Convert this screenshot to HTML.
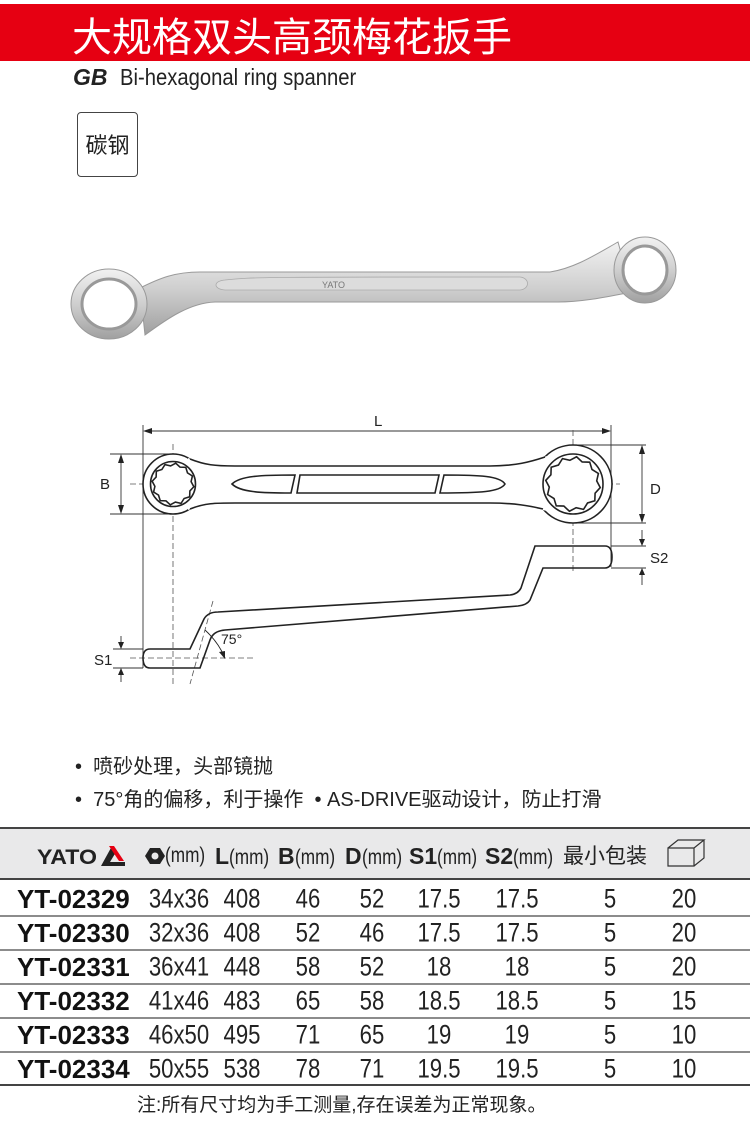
<!DOCTYPE html>
<html><head><meta charset="utf-8"><style>
*{margin:0;padding:0}
body{width:750px;height:1127px;position:relative;background:#fff;overflow:hidden;font-family:"Liberation Sans","Noto Sans CJK SC",sans-serif;color:#222}
.a{position:absolute;white-space:nowrap}
.v{position:absolute;font-size:27px;transform:translate(-50%,-50%) scaleX(0.82);line-height:1;color:#222}
.m{position:absolute;left:17px;font-size:26px;font-weight:bold;transform:translateY(-50%);line-height:1;color:#111}
.h{position:absolute;top:845px;font-size:21px;line-height:1;white-space:nowrap;color:#222}
.h b{font-size:23px}
.h span{display:inline-block;transform:scaleX(0.82);transform-origin:left}
</style></head><body>
<div class="a" style="left:0;top:4px;width:750px;height:57px;background:#e60012"></div>
<div class="a" style="left:72px;top:8px;font-size:40px;color:#fff;line-height:52px;font-family:'Noto Sans CJK SC',sans-serif">大规格双头高颈梅花扳手</div>
<div class="a" style="left:73px;top:63px;font-size:23px;line-height:28px"><b><i>GB</i></b>&nbsp; <span style="display:inline-block;transform:scaleX(0.88);transform-origin:left">Bi-hexagonal ring spanner</span></div>
<div class="a" style="left:77px;top:112px;width:59px;height:63px;border:1.5px solid #444;border-radius:4px;font-size:22px;line-height:63px;text-align:center;font-family:'Noto Sans CJK SC',sans-serif">碳钢</div>

<svg class="a" style="left:0;top:0" width="750" height="1127">
<defs><linearGradient id="g" x1="0" y1="0" x2="0" y2="1"><stop offset="0" stop-color="#f2f2f2"/><stop offset=".5" stop-color="#cfcfcf"/><stop offset="1" stop-color="#a0a0a0"/></linearGradient></defs>
<!-- photo wrench -->
<g stroke="#999" stroke-width="1" fill="url(#g)">
<path d="M140 288 C160 278 175 272 200 272 L550 272 C575 268 595 255 618 242 L632 292 C610 296 585 302 558 302 L215 302 C190 303 168 318 145 335 Z"/>
<ellipse cx="109" cy="304" rx="38" ry="35"/>
<ellipse cx="645" cy="270" rx="31" ry="33"/>
</g>
<ellipse cx="109" cy="304" rx="27" ry="25" fill="#fff" stroke="#999" stroke-width="3"/>
<ellipse cx="645" cy="270" rx="22" ry="24" fill="#fff" stroke="#999" stroke-width="3"/>
<path d="M225 280 C250 277 270 277 520 277 C530 278 530 289 520 290 L225 290 C213 289 213 281 225 280 Z" fill="#dcdcdc" stroke="#aaa" stroke-width="0.8"/>
<text x="322" y="288" font-size="9" fill="#777" font-family="Liberation Sans">YATO</text>

<!-- dimensions -->
<g stroke="#333" stroke-width="0.9" fill="none">
<line x1="143" y1="425" x2="143" y2="668"/>
<line x1="611" y1="425" x2="611" y2="567"/>
<line x1="146" y1="431" x2="608" y2="431"/>
<line x1="110" y1="454" x2="172" y2="454"/><line x1="110" y1="514" x2="172" y2="514"/>
<line x1="121" y1="457" x2="121" y2="511"/>
<line x1="573" y1="445" x2="646" y2="445"/><line x1="573" y1="523" x2="646" y2="523"/>
<line x1="642" y1="448" x2="642" y2="520"/>
<line x1="611" y1="546" x2="646" y2="546"/><line x1="611" y1="568" x2="646" y2="568"/>
<line x1="642" y1="530" x2="642" y2="543"/><line x1="642" y1="571" x2="642" y2="585"/>
<line x1="113" y1="649" x2="143" y2="649"/><line x1="113" y1="668" x2="143" y2="668"/>
<line x1="121" y1="636" x2="121" y2="646"/><line x1="121" y1="671" x2="121" y2="682"/>
</g>
<g fill="#222">
<path d="M143 431 L152 428 L152 434Z"/><path d="M611 431 L602 428 L602 434Z"/>
<path d="M121 454 L118 463 L124 463Z"/><path d="M121 514 L118 505 L124 505Z"/>
<path d="M642 445 L639 454 L645 454Z"/><path d="M642 523 L639 514 L645 514Z"/>
<path d="M642 546 L639 539 L645 539Z"/><path d="M642 568 L639 575 L645 575Z"/>
<path d="M121 649 L118 642 L124 642Z"/><path d="M121 668 L118 675 L124 675Z"/>
</g>
<g stroke="#555" stroke-width="0.8" stroke-dasharray="6 3" fill="none">
<line x1="130" y1="484" x2="620" y2="484"/>
<line x1="173" y1="444" x2="173" y2="684"/>
<line x1="573" y1="430" x2="573" y2="574"/>
<line x1="130" y1="658" x2="255" y2="658"/>
<line x1="213" y1="601" x2="190" y2="684"/>
</g>
<g font-family="Liberation Sans" font-size="15" fill="#222">
<text x="374" y="426">L</text><text x="100" y="489">B</text><text x="650" y="494">D</text>
<text x="650" y="563">S2</text><text x="94" y="665">S1</text><text x="221" y="644" font-size="14">75°</text>
</g>
<path d="M205 630 Q218 642 224 656" stroke="#222" fill="none" stroke-width="0.9"/><path d="M225 659 L219 652 L225 651Z" fill="#222"/>

<!-- top view -->
<g stroke="#222" stroke-width="1.6" fill="#fff">
<circle cx="173" cy="484" r="30"/><circle cx="573" cy="484" r="39"/>
</g>
<path d="M188 458 C205 465 215 466 235 466 L490 466 C515 466 530 462 547 456 L547 511 C530 507 515 503 490 503 L235 503 C215 503 205 503 188 510 Z" fill="#fff"/>
<g stroke="#222" stroke-width="1.6" fill="none">
<path d="M190 459 C205 465 215 466 235 466 L490 466 C515 466 530 462 545 457"/>
<path d="M190 509 C205 503 215 503 235 503 L490 503 C515 503 530 506 543 509"/>
<circle cx="173" cy="484" r="22.5" fill="#fff"/><circle cx="573" cy="484" r="30" fill="#fff"/>
<polygon transform="translate(173 484) scale(2.1) rotate(7.5)" stroke-width="0.75" points="10,0 8.4,2.25 8.66,5 6.15,6.15 5,8.66 2.25,8.4 0,10 -2.25,8.4 -5,8.66 -6.15,6.15 -8.66,5 -8.4,2.25 -10,0 -8.4,-2.25 -8.66,-5 -6.15,-6.15 -5,-8.66 -2.25,-8.4 0,-10 2.25,-8.4 5,-8.66 6.15,-6.15 8.66,-5 8.4,-2.25"/>
<polygon transform="translate(573 484) scale(2.75) rotate(7.5)" stroke-width="0.58" points="10,0 8.4,2.25 8.66,5 6.15,6.15 5,8.66 2.25,8.4 0,10 -2.25,8.4 -5,8.66 -6.15,6.15 -8.66,5 -8.4,2.25 -10,0 -8.4,-2.25 -8.66,-5 -6.15,-6.15 -5,-8.66 -2.25,-8.4 0,-10 2.25,-8.4 5,-8.66 6.15,-6.15 8.66,-5 8.4,-2.25"/>
<path d="M232 484 C240 476 260 475 295 475 L291 493 C260 493 240 492 232 484 Z"/>
<path d="M300 475 L439 475 L435 493 L297 493 Z"/>
<path d="M444 475 C480 475 500 476 505 484 C500 492 480 493 440 493 Z"/>
<path d="M150 649 L190 649 L204 619 Q208 612 218 612 L510 595 Q518 594 521 588 L535 546 L605 546 Q612 546 612 557 Q612 568 605 568 L543 568 L530 600 Q527 605 518 606 L225 630 Q213 631 210 640 L200 668 L150 668 Q143 668 143 658 Q143 649 150 649 Z"/>
</g>
<!-- table -->
<rect x="0" y="828" width="750" height="51" fill="#e9e9ea"/>
<g stroke="#444" stroke-width="2">
<line x1="0" y1="828" x2="750" y2="828"/><line x1="0" y1="879" x2="750" y2="879"/><line x1="0" y1="1085" x2="750" y2="1085"/>
</g>
<g stroke="#666" stroke-width="1.5">
<line x1="0" y1="916" x2="750" y2="916"/><line x1="0" y1="950" x2="750" y2="950"/><line x1="0" y1="984" x2="750" y2="984"/><line x1="0" y1="1018" x2="750" y2="1018"/><line x1="0" y1="1052" x2="750" y2="1052"/>
</g>
<text x="37" y="864" font-family="Liberation Sans" font-weight="bold" font-size="21" fill="#222" textLength="60" lengthAdjust="spacingAndGlyphs">YATO</text>
<path d="M101 866 L112 846 L116 852 L110 862 L125 862 L125 866Z" fill="#222"/><path d="M109 846 L114 846 L124 861 L119 861Z" fill="#e60012"/>
<polygon points="150,848 160,848 165,856 160,864 150,864 145,856" fill="#222"/><circle cx="155" cy="856" r="3.5" fill="#e9e9ea"/>
<g fill="none" stroke="#333" stroke-width="1.2"><path d="M668 848 L694 848 L694 866 L668 866 Z M668 848 L678 840 L704 840 L694 848 M704 840 L704 858 L694 866"/></g>
</svg>

<div class="h" style="left:165px"><span>(mm)</span></div>
<div class="h" style="left:215px"><b>L</b><span>(mm)</span></div>
<div class="h" style="left:278px"><b>B</b><span>(mm)</span></div>
<div class="h" style="left:345px"><b>D</b><span>(mm)</span></div>
<div class="h" style="left:409px"><b>S1</b><span>(mm)</span></div>
<div class="h" style="left:485px"><b>S2</b><span>(mm)</span></div>
<div class="h" style="left:563px;font-family:'Noto Sans CJK SC',sans-serif">最小包装</div>

<div class="a" style="left:75px;top:754px;font-size:20px;line-height:26px;font-family:'Liberation Sans','Noto Sans CJK SC',sans-serif">•&nbsp; 喷砂处理，头部镜抛</div>
<div class="a" style="left:75px;top:787px;font-size:20px;line-height:26px;font-family:'Liberation Sans','Noto Sans CJK SC',sans-serif">•&nbsp; 75°角的偏移，利于操作&nbsp; • AS-DRIVE驱动设计，防止打滑</div>

<div class="m" style="top:899px">YT-02329</div>
<div class="m" style="top:933px">YT-02330</div>
<div class="m" style="top:967px">YT-02331</div>
<div class="m" style="top:1001px">YT-02332</div>
<div class="m" style="top:1035px">YT-02333</div>
<div class="m" style="top:1069px">YT-02334</div>

<div class="v" style="left:179px;top:899px">34x36</div><div class="v" style="left:242px;top:899px">408</div><div class="v" style="left:308px;top:899px">46</div><div class="v" style="left:372px;top:899px">52</div><div class="v" style="left:439px;top:899px">17.5</div><div class="v" style="left:517px;top:899px">17.5</div><div class="v" style="left:610px;top:899px">5</div><div class="v" style="left:684px;top:899px">20</div>
<div class="v" style="left:179px;top:933px">32x36</div><div class="v" style="left:242px;top:933px">408</div><div class="v" style="left:308px;top:933px">52</div><div class="v" style="left:372px;top:933px">46</div><div class="v" style="left:439px;top:933px">17.5</div><div class="v" style="left:517px;top:933px">17.5</div><div class="v" style="left:610px;top:933px">5</div><div class="v" style="left:684px;top:933px">20</div>
<div class="v" style="left:179px;top:967px">36x41</div><div class="v" style="left:242px;top:967px">448</div><div class="v" style="left:308px;top:967px">58</div><div class="v" style="left:372px;top:967px">52</div><div class="v" style="left:439px;top:967px">18</div><div class="v" style="left:517px;top:967px">18</div><div class="v" style="left:610px;top:967px">5</div><div class="v" style="left:684px;top:967px">20</div>
<div class="v" style="left:179px;top:1001px">41x46</div><div class="v" style="left:242px;top:1001px">483</div><div class="v" style="left:308px;top:1001px">65</div><div class="v" style="left:372px;top:1001px">58</div><div class="v" style="left:439px;top:1001px">18.5</div><div class="v" style="left:517px;top:1001px">18.5</div><div class="v" style="left:610px;top:1001px">5</div><div class="v" style="left:684px;top:1001px">15</div>
<div class="v" style="left:179px;top:1035px">46x50</div><div class="v" style="left:242px;top:1035px">495</div><div class="v" style="left:308px;top:1035px">71</div><div class="v" style="left:372px;top:1035px">65</div><div class="v" style="left:439px;top:1035px">19</div><div class="v" style="left:517px;top:1035px">19</div><div class="v" style="left:610px;top:1035px">5</div><div class="v" style="left:684px;top:1035px">10</div>
<div class="v" style="left:179px;top:1069px">50x55</div><div class="v" style="left:242px;top:1069px">538</div><div class="v" style="left:308px;top:1069px">78</div><div class="v" style="left:372px;top:1069px">71</div><div class="v" style="left:439px;top:1069px">19.5</div><div class="v" style="left:517px;top:1069px">19.5</div><div class="v" style="left:610px;top:1069px">5</div><div class="v" style="left:684px;top:1069px">10</div>

<div class="a" style="left:137px;top:1093px;font-size:19px;line-height:26px;font-family:'Liberation Sans','Noto Sans CJK SC',sans-serif">注:所有尺寸均为手工测量,存在误差为正常现象。</div>
</body></html>
